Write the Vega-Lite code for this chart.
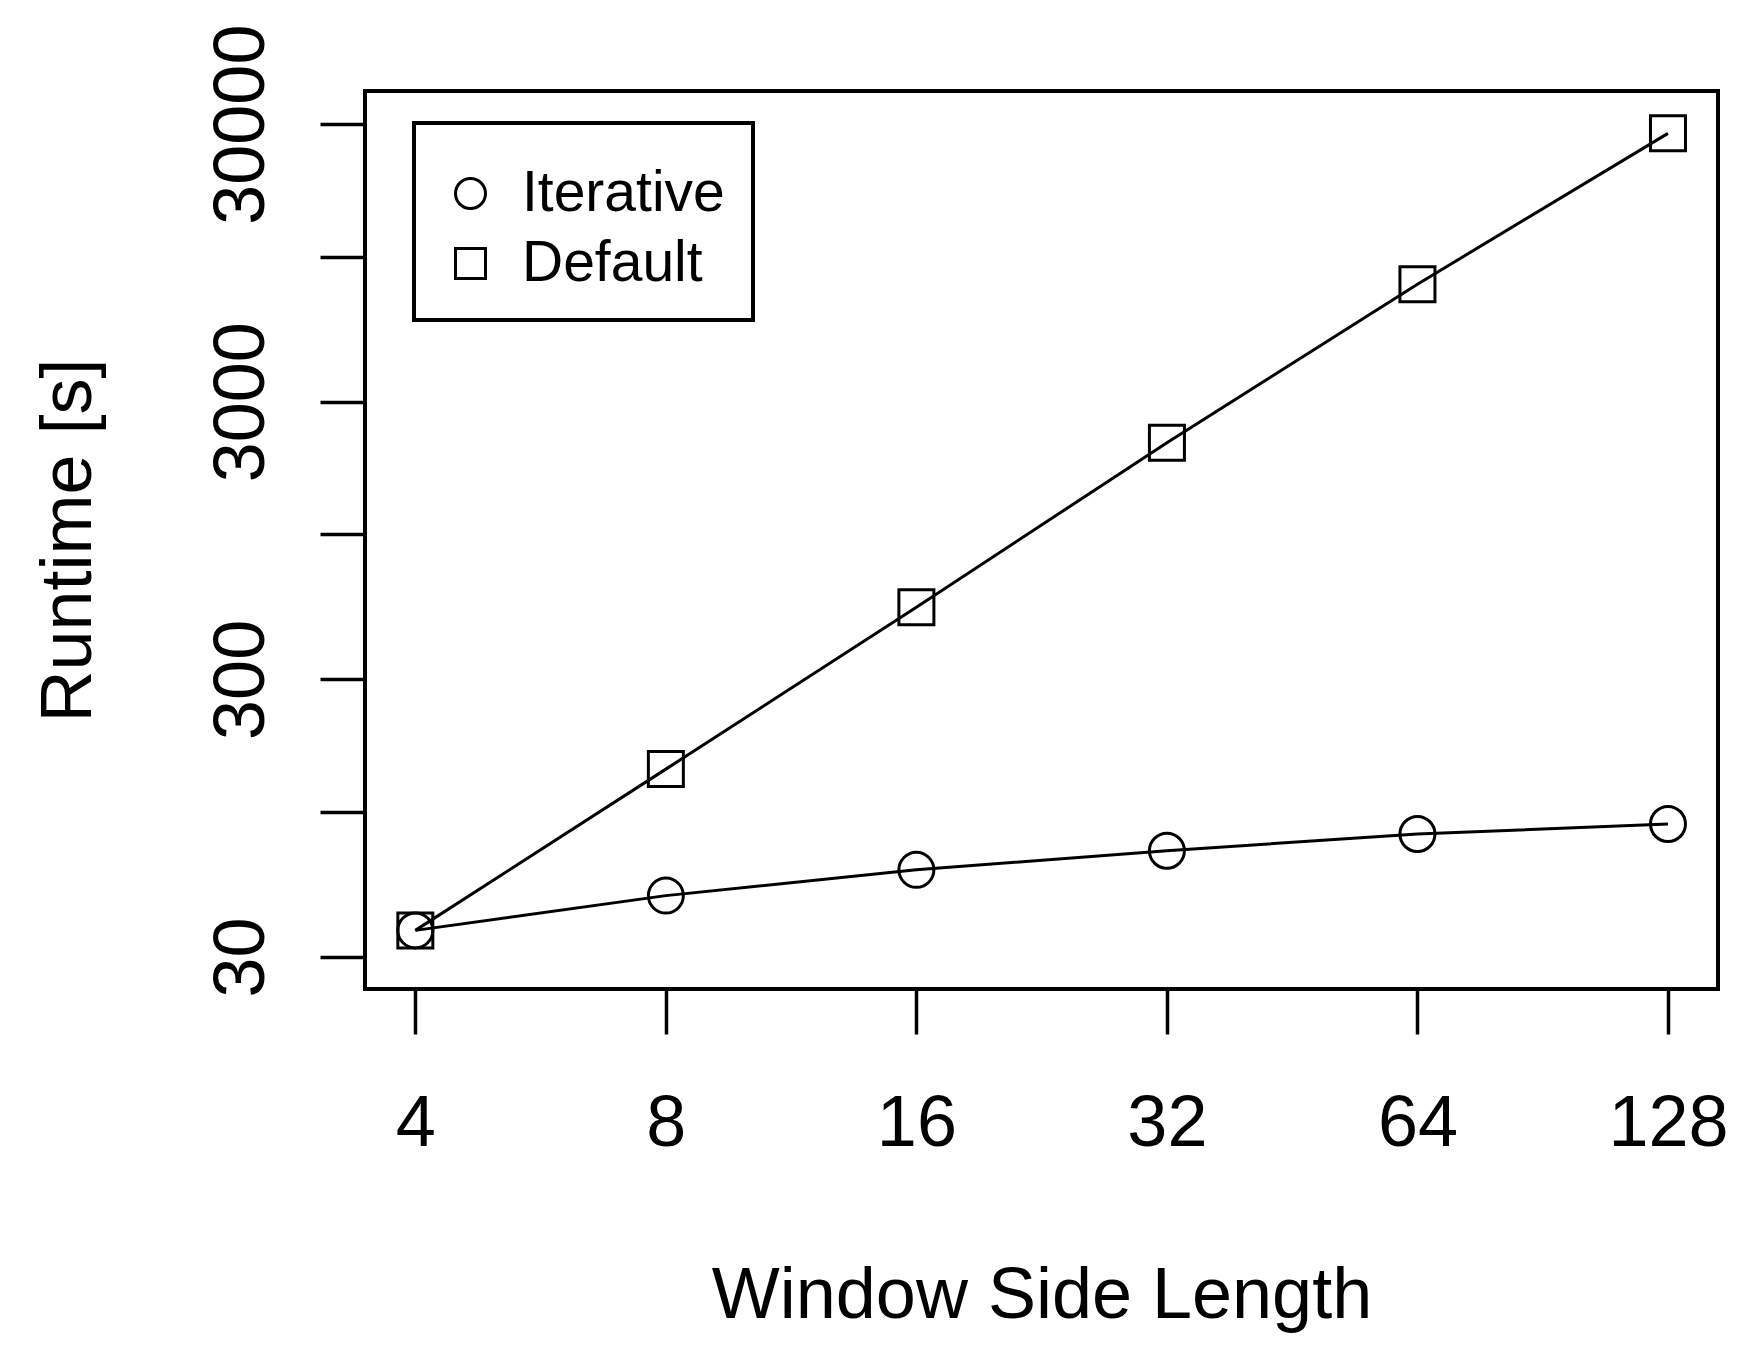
{
  "$schema": "https://vega.github.io/schema/vega-lite/v6.json",
  "width": 1353,
  "height": 898,
  "autosize": {"type": "none"},
  "padding": {"left": 365, "top": 91, "right": 35, "bottom": 361},
  "background": "white",
  "config": {
    "font": "Liberation Sans",
    "view": {"stroke": "black", "strokeWidth": 4},
    "legend": {"strokeWidth": 4},
    "axis": {
      "domain": false,
      "grid": false,
      "tickColor": "black",
      "tickWidth": 3.5,
      "tickSize": 45,
      "labelColor": "black",
      "titleColor": "black",
      "labelFont": "Liberation Sans",
      "titleFont": "Liberation Sans",
      "labelFontSize": 72,
      "titleFontSize": 72,
      "titleFontWeight": "normal",
      "labelOverlap": false,
      "labelFlush": false,
      "labelLimit": 500,
      "titleLimit": 1200
    }
  },
  "data": {
    "values": [
      {"series": "Iterative", "window": 4, "runtime": 37.4},
      {"series": "Iterative", "window": 8, "runtime": 49.9},
      {"series": "Iterative", "window": 16, "runtime": 61.8},
      {"series": "Iterative", "window": 32, "runtime": 72.4},
      {"series": "Iterative", "window": 64, "runtime": 83.2},
      {"series": "Iterative", "window": 128, "runtime": 90.4},
      {"series": "Default", "window": 4, "runtime": 37.4},
      {"series": "Default", "window": 8, "runtime": 142.5},
      {"series": "Default", "window": 16, "runtime": 546},
      {"series": "Default", "window": 32, "runtime": 2136},
      {"series": "Default", "window": 64, "runtime": 7956},
      {"series": "Default", "window": 128, "runtime": 27800}
    ]
  },
  "encoding": {
    "x": {
      "field": "window",
      "type": "quantitative",
      "scale": {"type": "log", "base": 2, "domain": [3.48, 147], "nice": false, "zero": false},
      "axis": {
        "title": "Window Side Length",
        "values": [4, 8, 16, 32, 64, 128],
        "format": "d",
        "labelBaseline": "alphabetic",
        "labelPadding": 111,
        "titleBaseline": "alphabetic",
        "titleAnchor": "middle",
        "titleX": 676.5,
        "titleY": 328
      }
    },
    "y": {
      "field": "runtime",
      "type": "quantitative",
      "scale": {"type": "log", "domain": [23, 39500], "nice": false, "zero": false},
      "axis": {
        "title": "Runtime [s]",
        "values": [30, 100, 300, 1000, 3000, 10000, 30000],
        "format": "d",
        "labelExpr": "indexof([30, 300, 3000, 30000], datum.value) >= 0 ? datum.label : ''",
        "labelAngle": -90,
        "labelAlign": "center",
        "labelBaseline": "alphabetic",
        "labelPadding": 57,
        "titleAngle": -90,
        "titleAlign": "center",
        "titleBaseline": "alphabetic",
        "titleX": -275,
        "titleY": 449
      }
    }
  },
  "layer": [
    {
      "mark": {"type": "line", "color": "black", "strokeWidth": 3},
      "encoding": {
        "detail": {"field": "series", "type": "nominal"}
      }
    },
    {
      "mark": {"type": "point", "filled": false, "color": "black", "strokeWidth": 3, "size": 1225, "opacity": 1},
      "encoding": {
        "shape": {
          "field": "series",
          "type": "nominal",
          "scale": {"domain": ["Iterative", "Default"], "range": ["circle", "square"]},
          "legend": {
            "title": " ",
            "titleFontSize": 8,
            "titlePadding": 6,
            "orient": "none",
            "legendX": 49,
            "legendY": 32,
            "strokeColor": "black",
            "fillColor": "white",
            "padding": 28,
            "labelFont": "Liberation Sans",
            "labelFontSize": 57,
            "labelColor": "black",
            "labelLimit": 400,
            "labelOffset": 23,
            "symbolSize": 900,
            "symbolStrokeWidth": 3,
            "symbolStrokeColor": "black",
            "symbolFillColor": "transparent",
            "rowPadding": 12
          }
        }
      }
    }
  ]
}
